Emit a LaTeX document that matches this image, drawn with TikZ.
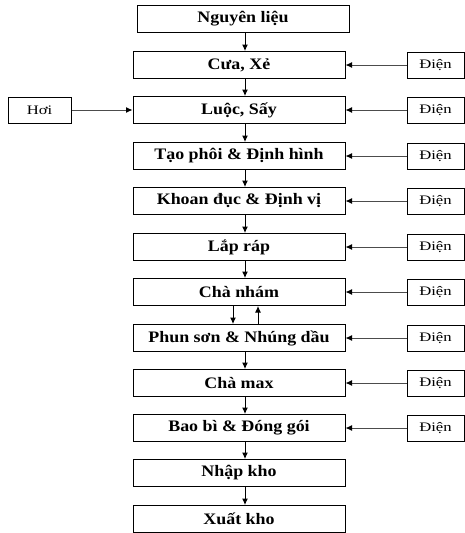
\documentclass[tikz,border=0pt]{standalone}
\usepackage{fontspec}
\setmainfont{Liberation Serif}
\newfontfamily\mainbf[FakeStretch=1.12]{Liberation Serif Bold}
\newfontfamily\smallf[FakeStretch=1.28]{Liberation Serif}
\usetikzlibrary{arrows.meta}
\begin{document}
\begin{tikzpicture}[x=1pt,y=-1pt,
  mainbox/.style={draw,line width=1pt,minimum width=212pt,minimum height=27pt,inner sep=0pt,
    font=\mainbf\fontsize{16}{18}\selectfont},
  srcbox/.style={draw,line width=1pt,minimum width=57pt,minimum height=26pt,inner sep=0pt,
    font=\smallf\fontsize{13}{15}\selectfont},
  arr/.style={line width=1pt,-{Latex[length=6.5pt,width=6pt]}},
  sarr/.style={line width=1pt,draw=black!70,-{Latex[length=6.5pt,width=6pt,fill=black,color=black]}}]
\useasboundingbox (0,0) rectangle (465,533);
\coordinate (ax) at (245,0);
\coordinate (axl) at (233,0);
\coordinate (axr) at (258,0);
\node[mainbox] (n1) at (243,19) {Nguyên liệu};
\node[mainbox] (n2) at (239,65) {Cưa, Xẻ};
\node[mainbox] (n3) at (239,110) {Luộc, Sấy};
\node[mainbox] (n4) at (239,156) {Tạo phôi \& Định hình};
\node[mainbox] (n5) at (239,201) {Khoan đục \& Định vị};
\node[mainbox] (n6) at (239,247) {Lắp ráp};
\node[mainbox] (n7) at (239,292) {Chà nhám};
\node[mainbox] (n8) at (239,338) {Phun sơn \& Nhúng dầu};
\node[mainbox] (n9) at (239,383) {Chà max};
\node[mainbox] (n10) at (239,428) {Bao bì \& Đóng gói};
\node[mainbox] (n11) at (239,473) {Nhập kho};
\node[mainbox] (n12) at (239,519) {Xuất kho};
\node[srcbox,minimum width=63pt] (h) at (39.5,110) {Hơi};
\foreach \i/\y in {2/65,3/110,4/156,5/201,6/247,7/292,8/338,9/383,10/428}{
  \node[srcbox] (d\i) at (435.5,\y) {Điện};
  \draw[sarr] (d\i.west) -- (n\i.east);
}
\draw[sarr] (h.east) -- (n3.west);
\foreach \a/\b in {1/2,2/3,3/4,4/5,5/6,6/7,8/9,9/10,10/11,11/12}{
  \draw[arr] (n\a.south -| ax) -- (n\b.north -| ax);
}
\draw[arr] (n7.south -| axl) -- (n8.north -| axl);
\draw[arr] (n8.north -| axr) -- (n7.south -| axr);
\end{tikzpicture}
\end{document}
